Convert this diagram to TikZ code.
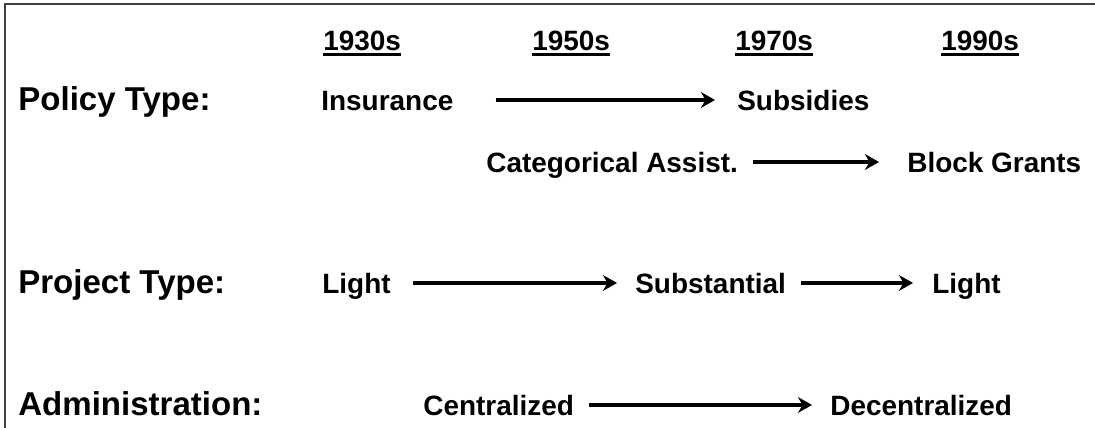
\documentclass[tikz,border=0pt]{standalone}
\usepackage{fontspec}
\setmainfont{Liberation Sans}
\usepackage{tikz}
\usetikzlibrary{arrows.meta}

\newcommand{\decade}[1]{\setbox0\hbox{#1}\rlap{\raisebox{-3.2pt}{\rule{\wd0}{1.5pt}}}\box0}

\begin{document}
\begin{tikzpicture}[
    rowlbl/.style={anchor=base west, inner sep=0pt, font=\fontsize{18.8}{22}\selectfont\bfseries},
    item/.style={anchor=base west, inner sep=0pt, text height=11.4pt, text depth=0pt, font=\fontsize{15.9}{19}\selectfont\bfseries},
    arr/.style={-{Stealth[length=8pt,width=9pt]}, line width=2.2pt}
]
            \useasboundingbox (0,0) rectangle (21.9,-8.54);
            \draw[line width=1.1pt, black!75] (0.1,-0.08) rectangle (22.5,-9);
            % decennies
            \node[item] (y30) at (6.46,-1.0) {\decade{1930s}};
            \node[item] (y50) at (10.64,-1.0) {\decade{1950s}};
            \node[item] (y70) at (14.70,-1.0) {\decade{1970s}};
            \node[item] (y90) at (18.82,-1.0) {\decade{1990s}};
            % policy type
            \node[rowlbl] (policy) at (0.36,-2.2) {Policy Type:};
                \node[item] (insur) at (6.42,-2.2) {Insurance};
                \node[item] (subsid) at (14.74,-2.2) {Subsidies};
                \node[item] (categ) at (9.72,-3.44) {Categorical Assist.};
                \node[item] (block) at (18.14,-3.44) {Block Grants};
            % project type
            \node[rowlbl] (project) at (0.36,-5.86) {Project Type:};
                \node[item] (lightA) at (6.44,-5.86) {Light};
                \node[item] (substan) at (12.70,-5.86) {Substantial};
                \node[item] (lightB) at (18.64,-5.86) {Light};
            % administration
            \node[rowlbl] (admin) at (0.36,-8.3) {Administration:};
                \node[item] (central) at (8.46,-8.3) {Centralized};
                \node[item] (decentral) at (16.6,-8.3) {Decentralized};
            % fleches
            \draw[arr, shorten <=0.84cm, shorten >=0.44cm] (insur.east) -- (subsid.west);
            \draw[arr, shorten <=0.30cm, shorten >=0.56cm] (categ.east) -- (block.west);
            \draw[arr, shorten <=0.44cm, shorten >=0.36cm] (lightA.east) -- (substan.west);
            \draw[arr, shorten <=0.30cm, shorten >=0.38cm] (substan.east) -- (lightB.west);
            \draw[arr, shorten <=0.30cm, shorten >=0.36cm] (central.east) -- (decentral.west);
        \end{tikzpicture}
\end{document}
